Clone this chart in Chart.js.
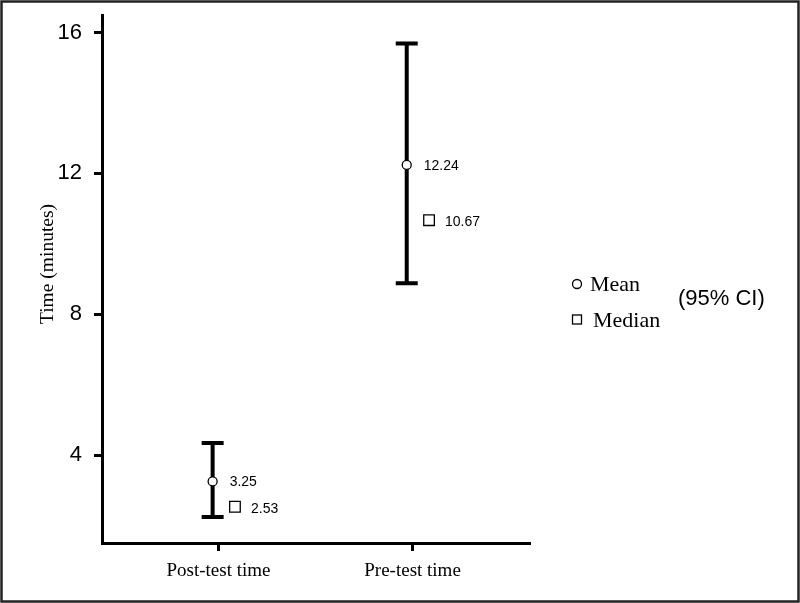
<!DOCTYPE html>
<html>
<head>
<meta charset="utf-8">
<style>
  html, body { margin: 0; padding: 0; background: #fff; }
  #wrap { width: 800px; height: 603px; }
</style>
<script src="https://cdn.jsdelivr.net/npm/chart.js@4"></script>
</head>
<body>
<div id="wrap"><canvas id="ci-chart" width="800" height="603"></canvas></div>
<script>
// Data
const categories = ['Post-test time', 'Pre-test time'];
const means = [3.25, 12.24];
const medians = [2.53, 10.67];
const ciLow = [2.24, 8.88];
const ciHigh = [4.34, 15.69];
const yTicks = [4, 8, 12, 16];

// small horizontal shifts so mean/median don't sit on top of each other
const BAR_SHIFT = -0.03;
const MEDIAN_SHIFT = 0.085;

const serif = "'Liberation Serif', 'Times New Roman', serif";
const sans = "'Liberation Sans', Arial, sans-serif";

// Outer frame around the whole picture
const framePlugin = {
  id: 'frame',
  afterDraw(chart) {
    const ctx = chart.ctx;
    ctx.save();
    ctx.strokeStyle = '#222';
    ctx.lineWidth = 2.5;
    ctx.strokeRect(1.5, 1.5, chart.width - 3, chart.height - 3);
    ctx.restore();
  }
};

// y axis title, sits a little above the middle of the axis in the original
const yTitlePlugin = {
  id: 'yTitle',
  afterDraw(chart) {
    const ctx = chart.ctx;
    ctx.save();
    ctx.translate(48, 264);
    ctx.rotate(-Math.PI / 2);
    ctx.fillStyle = '#000';
    ctx.font = '19.5px ' + serif;
    ctx.textAlign = 'center';
    ctx.textBaseline = 'middle';
    ctx.fillText('Time (minutes)', 0, 0);
    ctx.restore();
  }
};

// 95% CI whiskers, drawn under the markers
const errorBarPlugin = {
  id: 'errorBars',
  beforeDatasetsDraw(chart) {
    const ctx = chart.ctx;
    const xs = chart.scales.x, ys = chart.scales.y;
    ctx.save();
    ctx.strokeStyle = '#000';
    ctx.lineWidth = 4;
    categories.forEach((c, i) => {
      const x = xs.getPixelForValue(i + 1 + BAR_SHIFT);
      const lo = ys.getPixelForValue(ciLow[i]);
      const hi = ys.getPixelForValue(ciHigh[i]);
      ctx.beginPath();
      ctx.moveTo(x, lo);
      ctx.lineTo(x, hi);
      ctx.moveTo(x - 11, lo);
      ctx.lineTo(x + 11, lo);
      ctx.moveTo(x - 11, hi);
      ctx.lineTo(x + 11, hi);
      ctx.stroke();
    });
    ctx.restore();
  }
};

// Number next to each marker
const valueLabelPlugin = {
  id: 'valueLabels',
  afterDatasetsDraw(chart) {
    const ctx = chart.ctx;
    const xs = chart.scales.x, ys = chart.scales.y;
    ctx.save();
    ctx.fillStyle = '#000';
    ctx.font = '14px ' + sans;
    ctx.textAlign = 'left';
    ctx.textBaseline = 'middle';
    categories.forEach((c, i) => {
      ctx.fillText(means[i].toFixed(2), xs.getPixelForValue(i + 1 + BAR_SHIFT) + 17, ys.getPixelForValue(means[i]) + 1);
      ctx.fillText(medians[i].toFixed(2), xs.getPixelForValue(i + 1 + MEDIAN_SHIFT) + 16, ys.getPixelForValue(medians[i]) + 2);
    });
    ctx.restore();
  }
};

// Legend box on the right
const legendPlugin = {
  id: 'sideLegend',
  afterDraw(chart) {
    const ctx = chart.ctx;
    const left = chart.chartArea.right + 48;
    ctx.save();
    ctx.strokeStyle = '#000';
    ctx.fillStyle = '#fff';
    ctx.lineWidth = 1.3;
    ctx.beginPath();
    ctx.arc(left, 284, 4.5, 0, Math.PI * 2);
    ctx.fill();
    ctx.stroke();
    ctx.fillRect(left - 4.5, 315, 9, 9);
    ctx.strokeRect(left - 4.5, 315, 9, 9);

    ctx.fillStyle = '#000';
    ctx.textAlign = 'left';
    ctx.textBaseline = 'middle';
    ctx.font = '22px ' + serif;
    ctx.fillText('Mean', left + 13, 285);
    ctx.fillText('Median', left + 16, 321);
    ctx.font = '22px ' + sans;
    ctx.fillText('(95% CI)', left + 101, 299);
    ctx.restore();
  }
};

const config = {
  type: 'scatter',
  data: {
    datasets: [
      {
        label: 'Mean',
        data: categories.map((c, i) => ({ x: i + 1 + BAR_SHIFT, y: means[i] })),
        pointStyle: 'circle',
        pointRadius: 4.5,
        backgroundColor: '#fff',
        borderColor: '#000',
        borderWidth: 1.3
      },
      {
        label: 'Median',
        data: categories.map((c, i) => ({ x: i + 1 + MEDIAN_SHIFT, y: medians[i] })),
        pointStyle: 'rect',
        pointRadius: 7.5,
        backgroundColor: '#fff',
        borderColor: '#000',
        borderWidth: 1.3
      }
    ]
  },
  options: {
    responsive: false,
    animation: false,
    events: [],
    layout: { padding: { top: 15, right: 271, left: 0, bottom: 0 } },
    plugins: {
      legend: { display: false },
      tooltip: { enabled: false }
    },
    scales: {
      x: {
        type: 'linear',
        position: 'bottom',
        min: 0.4,
        max: 2.6,
        afterBuildTicks: (scale) => {
          scale.ticks = categories.map((c, i) => ({ value: i + 1 }));
        },
        afterFit: (scale) => {
          scale.height = 60;
          scale.paddingLeft = 0;
          scale.paddingRight = 0;
        },
        ticks: {
          autoSkip: false,
          maxRotation: 0,
          color: '#000',
          padding: 9,
          font: { family: serif, size: 19 },
          callback: (v) => categories[Math.round(v) - 1]
        },
        grid: { drawOnChartArea: false, color: '#000', lineWidth: 3, tickLength: 8 },
        border: { color: '#000', width: 3 }
      },
      y: {
        min: 1.5,
        max: 16.5,
        afterBuildTicks: (scale) => {
          scale.ticks = yTicks.map(v => ({ value: v }));
        },
        afterFit: (scale) => {
          scale.width = 102;
          scale.paddingTop = 0;
          scale.paddingBottom = 0;
        },
        ticks: {
          color: '#000',
          padding: 12,
          font: { family: sans, size: 22 }
        },
        title: { display: false },
        grid: { drawOnChartArea: false, color: '#000', lineWidth: 3, tickLength: 8 },
        border: { color: '#000', width: 3 }
      }
    }
  },
  plugins: [errorBarPlugin, valueLabelPlugin, legendPlugin, yTitlePlugin, framePlugin]
};

var ciChart = new Chart(document.getElementById('ci-chart'), config);
</script>
</body>
</html>
